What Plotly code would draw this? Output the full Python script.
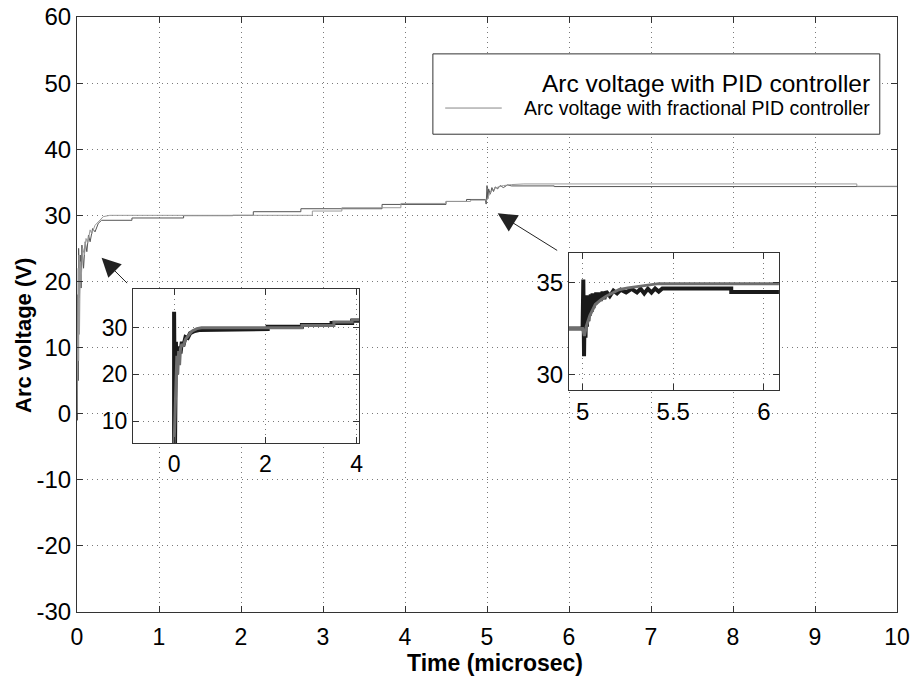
import plotly.graph_objects as go

# ---------------- data ----------------
# main plot, PID controller
pid_t = [0, 0.005, 0.01, 0.015, 0.02, 0.03, 0.04, 0.05, 0.06, 0.08, 0.10, 0.12, 0.14, 0.16, 0.19, 0.22,
         0.26, 0.30, 0.67, 0.67, 1.30, 1.30, 1.90, 1.90, 2.15, 2.15, 2.73, 2.73, 3.72, 3.72, 4.50, 4.50,
         4.75, 4.75, 4.98, 4.99, 5.00, 5.01, 5.02, 5.04, 5.06, 5.08, 5.10, 5.13, 5.16, 5.20, 5.25, 5.30,
         5.82, 5.82, 10.0]
pid_v = [0, -1, 18, 5, 25, 17.5, 24, 19, 25.5, 22, 26, 24.5, 27, 26, 28, 27.5,
         28.8, 29.25, 29.25, 29.6, 29.6, 29.95, 29.95, 30.0, 30.0, 30.55, 30.55, 31.0, 31.0, 31.65, 31.65, 32.1,
         32.1, 32.4, 32.4, 31.7, 34.5, 32.5, 34.0, 33.2, 34.2, 33.6, 34.3, 34.0, 34.5, 34.2, 34.6, 34.45,
         34.45, 34.35, 34.35]

# main plot, fractional PID controller
fpid_t = [0, 0.005, 0.01, 0.015, 0.02, 0.025, 0.03, 0.04, 0.05, 0.07, 0.09, 0.11, 0.13, 0.16, 0.18, 0.22,
          0.27, 0.32, 0.40, 2.87, 2.87, 3.23, 3.23, 3.95, 3.95, 4.50, 4.50, 4.80, 4.80, 5.00, 5.01, 5.03,
          5.06, 5.10, 5.15, 5.20, 5.30, 5.45, 9.51, 9.51, 10.0]
fpid_v = [0, 10, 2, 22, 8, 24, 12, 23, 20, 25, 24, 26.5, 25.8, 27.8, 27.2, 28.5,
          29.2, 29.8, 30.0, 30.0, 30.65, 30.65, 31.15, 31.15, 31.8, 31.8, 32.1, 32.1, 32.3, 32.3, 32.6, 33.2,
          33.7, 34.1, 34.35, 34.5, 34.65, 34.75, 34.75, 34.4, 34.4]

# inset 1 (start-up transient)
in1_pid_t = [0.0, 0.0, 0.02, 0.04, 0.05, 0.07, 0.09, 0.11, 0.14, 0.17, 0.20, 0.25, 0.30, 0.35, 0.45, 0.55,
             0.65, 1.5, 1.5, 2.05, 2.05, 2.8, 2.8, 3.45, 3.45, 3.9, 3.9, 4.05]
in1_pid_v = [5, 33.4, 4.5, 27, 21, 25.5, 23, 26, 24.5, 27, 26, 28, 27.8, 28.8, 29.3, 29.5,
             29.5, 29.5, 29.7, 29.7, 30.2, 30.2, 30.6, 30.6, 31.0, 31.0, 31.5, 31.5]
in1_fpid_t = [0.0, 0.03, 0.06, 0.08, 0.10, 0.12, 0.14, 0.17, 0.20, 0.25, 0.30, 0.35, 0.40, 0.50, 0.60,
              2.8, 2.8, 3.5, 3.5, 3.9, 3.9, 4.05]
in1_fpid_v = [5, 15, 24, 20, 25, 22, 25.5, 26.5, 26, 27.5, 28.2, 28.8, 29.3, 29.8, 30.0,
              30.0, 30.5, 30.5, 31.2, 31.2, 31.7, 31.7]

# inset 2 (step at 5 microsec)
in2_pid_t = [4.925, 5.0, 5.004, 5.008, 5.012, 5.016, 5.02, 5.024, 5.028, 5.032, 5.036, 5.04, 5.045,
             5.05, 5.055, 5.06, 5.065, 5.07, 5.075, 5.08, 5.09, 5.10, 5.11, 5.12, 5.13, 5.15, 5.17,
             5.19, 5.21, 5.24, 5.27, 5.30, 5.32, 5.34, 5.36, 5.38, 5.40, 5.42, 5.44, 5.82, 5.82, 6.083]
in2_pid_v = [32.5, 32.5, 35.15, 31.0, 34.3, 32.0, 34.2, 32.6, 34.3, 32.9, 34.3, 33.2, 34.35,
             33.4, 34.4, 33.6, 34.4, 33.8, 34.45, 33.9, 34.45, 34.0, 34.5, 34.1, 34.5, 34.25, 34.55,
             34.4, 34.6, 34.45, 34.65, 34.45, 34.65, 34.4, 34.65, 34.45, 34.67, 34.5, 34.67, 34.67, 34.48, 34.48]
in2_fpid_t = [4.925, 5.0, 5.01, 5.02, 5.04, 5.07, 5.10, 5.13, 5.17, 5.20, 5.25, 5.29, 5.34, 5.38, 5.42, 6.083]
in2_fpid_v = [32.5, 32.5, 32.1, 32.6, 33.2, 33.8, 34.05, 34.25, 34.45, 34.6, 34.7, 34.75, 34.85, 34.9, 34.93, 34.93]

x_ticks = [0, 1, 2, 3, 4, 5, 6, 7, 8, 9, 10]
y_ticks = [-30, -20, -10, 0, 10, 20, 30, 40, 50, 60]
legend_labels = ["Arc voltage with PID controller", "Arc voltage with fractional PID controller"]
x_title = "Time (microsec)"
y_title = "Arc voltage (V)"

# ---------------- figure ----------------
REG = "Liberation Sans, Arial, sans-serif"
AX = "#333333"
GRID = "#7a7a7a"

fig = go.Figure()
fig.add_trace(go.Scatter(x=pid_t, y=pid_v, mode="lines", line=dict(color="#555555", width=1),
                         name=legend_labels[0], showlegend=False))
fig.add_trace(go.Scatter(x=fpid_t, y=fpid_v, mode="lines", line=dict(color="#9a9a9a", width=1),
                         name=legend_labels[1], showlegend=False))

fig.add_trace(go.Scatter(x=in1_pid_t, y=in1_pid_v, xaxis="x2", yaxis="y2", mode="lines",
                         line=dict(color="#1a1a1a", width=4), showlegend=False))
fig.add_trace(go.Scatter(x=in1_fpid_t, y=in1_fpid_v, xaxis="x2", yaxis="y2", mode="lines",
                         line=dict(color="#6e6e6e", width=3), showlegend=False))
fig.add_trace(go.Scatter(x=in2_pid_t, y=in2_pid_v, xaxis="x3", yaxis="y3", mode="lines",
                         line=dict(color="#1a1a1a", width=4), showlegend=False))
fig.add_trace(go.Scatter(x=in2_fpid_t, y=in2_fpid_v, xaxis="x3", yaxis="y3", mode="lines",
                         line=dict(color="#6e6e6e", width=3), showlegend=False))

common = dict(showline=True, linecolor=AX, linewidth=1, mirror="ticks", ticks="inside",
              ticklen=6, tickcolor=AX, showgrid=True, gridcolor=GRID, griddash="1px,4px",
              gridwidth=1, zeroline=False, automargin=False)

fig.update_layout(
    width=915, height=685,
    margin=dict(l=77, r=18, t=17, b=73),
    paper_bgcolor="white", plot_bgcolor="white",
    showlegend=False,
    xaxis=dict(range=[0, 10], tickvals=x_ticks, ticktext=[str(v) for v in x_ticks],
               tickfont=dict(family=REG, size=23, color="black"), ticklabelstandoff=4,
               **common),
    yaxis=dict(range=[-30, 60], tickvals=y_ticks, ticktext=[str(v) for v in y_ticks],
               tickfont=dict(family=REG, size=24, color="black"),
               **common),
    xaxis2=dict(domain=[0.0683, 0.3439], anchor="y2", range=[-0.9, 4.05], tickvals=[0, 2, 4],
                tickfont=dict(family=REG, size=23, color="black"), **common),
    yaxis2=dict(domain=[0.284, 0.5429], anchor="x2", range=[5.3, 38.3], tickvals=[10, 20, 30],
                tickfont=dict(family=REG, size=23, color="black"), **common),
    xaxis3=dict(domain=[0.6, 0.856], anchor="y3", range=[4.925, 6.083], tickvals=[5, 5.5, 6],
                tickfont=dict(family=REG, size=24, color="black"), **common),
    yaxis3=dict(domain=[0.3731, 0.6034], anchor="x3", range=[29.17, 36.59], tickvals=[30, 35],
                tickfont=dict(family=REG, size=24, color="black"), **common),
)

# axis titles
fig.add_annotation(xref="paper", yref="paper", x=0.51, y=-0.0857, xanchor="center", yanchor="middle",
                   text="<b>" + x_title + "</b>", showarrow=False,
                   font=dict(family=REG, size=23, color="black"))
fig.add_annotation(xref="paper", yref="paper", x=-0.0659, y=0.4655, xanchor="center", yanchor="middle",
                   text="<b>" + y_title + "</b>", showarrow=False, textangle=-90,
                   font=dict(family=REG, size=22, color="black"))

# custom legend (white box, right-aligned labels)
fig.add_shape(type="rect", xref="paper", yref="paper", x0=0.434, x1=0.979, y0=0.803, y1=0.938,
              line=dict(color=AX, width=1), fillcolor="white", layer="above")
fig.add_shape(type="line", xref="paper", yref="paper", x0=0.449, x1=0.518, y0=0.847, y1=0.847,
              line=dict(color="#888888", width=1), layer="above")
fig.add_annotation(xref="paper", yref="paper", x=0.9695, y=0.889, xanchor="right", yanchor="middle",
                   text=legend_labels[0], showarrow=False, font=dict(family=REG, size=24.5, color="black"))
fig.add_annotation(xref="paper", yref="paper", x=0.9695, y=0.847, xanchor="right", yanchor="middle",
                   text=legend_labels[1], showarrow=False, font=dict(family=REG, size=19.5, color="black"))

# arrows pointing at the zoomed regions
fig.add_annotation(xref="x", yref="y", x=0.30, y=23.6, ax=27, ay=27, showarrow=True,
                   arrowhead=2, arrowsize=3.8, arrowwidth=1, arrowcolor="#222222", text="")
fig.add_annotation(xref="x", yref="y", x=5.13, y=30.3, ax=61, ay=38, showarrow=True,
                   arrowhead=2, arrowsize=3.8, arrowwidth=1, arrowcolor="#222222", text="")

# page has no body margin so the figure fills the 915x685 window exactly
fig.write_html("out.html", config={"displayModeBar": False},
               post_script="document.body.style.margin='0';")
